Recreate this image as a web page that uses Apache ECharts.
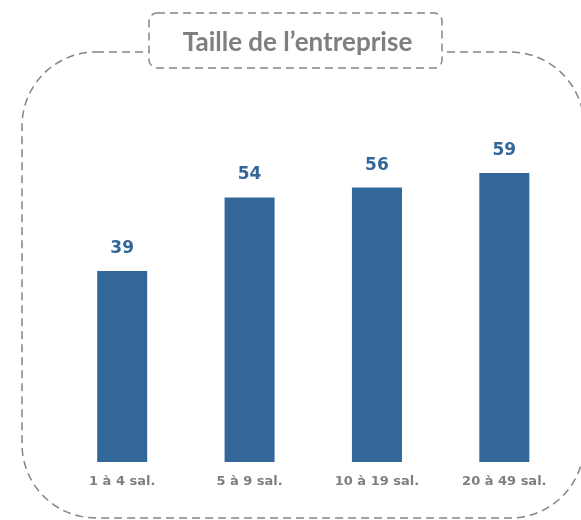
<!DOCTYPE html>
<html>
<head>
<meta charset="utf-8">
<script src="https://cdn.jsdelivr.net/npm/echarts@6/dist/echarts.min.js"></script>
<style>
  html, body { margin: 0; padding: 0; background: #fff; }
  #chart { width: 581px; height: 520px; }
</style>
</head>
<body>
<div id="chart"></div>
<script>
const categories = ['1 à 4 sal.', '5 à 9 sal.', '10 à 19 sal.', '20 à 49 sal.'];
const values = [39, 54, 56, 59];
const titleText = 'Taille de l\u2019entreprise';

const grey = '#7f7f7f';
const dash = '#858585';

const chart = echarts.init(document.getElementById('chart'), null, { renderer: 'canvas' });

const option = {
  animation: false,
  grid: { left: 58.5, right: 13, top: 168, bottom: 58 },
  xAxis: {
    type: 'category',
    data: categories,
    axisLine: { show: false },
    axisTick: { show: false },
    axisLabel: {
      color: grey,
      fontFamily: 'DejaVu Sans',
      fontWeight: 'bold',
      fontSize: 13,
      margin: 13,
    },
  },
  yAxis: {
    type: 'value',
    min: 0,
    max: 60,
    show: false,
  },
  series: [
    {
      type: 'bar',
      data: values,
      barWidth: 50,
      itemStyle: { color: '#336699' },
      label: {
        show: true,
        position: 'top',
        distance: 14,
        color: '#336699',
        fontFamily: 'DejaVu Sans',
        fontWeight: 'bold',
        fontSize: 17,
      },
    },
  ],
  graphic: [
    {
      type: 'rect',
      z: -1,
      shape: { x: 22, y: 52, width: 562, height: 466, r: 74 },
      style: { fill: 'none', stroke: dash, lineWidth: 1.5, lineDash: [8, 5] },
    },
    {
      type: 'rect',
      z: 1,
      shape: { x: 149, y: 13, width: 293, height: 55, r: 8 },
      style: { fill: '#fff', stroke: dash, lineWidth: 1.5, lineDash: [8, 5] },
    },
    {
      type: 'text',
      z: 2,
      x: 297.5,
      y: 43,
      style: {
        text: titleText,
        fill: grey,
        font: 'bold 26px Lato',
        align: 'center',
        verticalAlign: 'middle',
      },
    },
  ],
};

chart.setOption(option);
</script>
</body>
</html>
